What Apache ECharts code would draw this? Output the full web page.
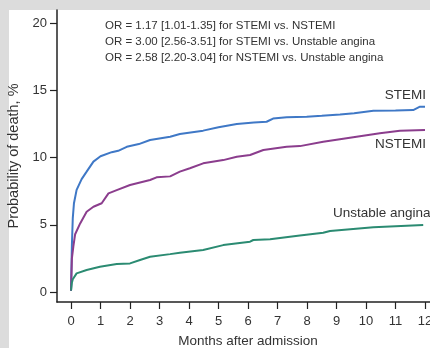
<!DOCTYPE html>
<html>
<head>
<meta charset="utf-8">
<script src="https://cdn.jsdelivr.net/npm/echarts@6/dist/echarts.min.js"></script>
<style>
  html, body { margin: 0; padding: 0; background: #dcdcdc; }
  #chart { width: 430px; height: 348px; }
</style>
</head>
<body>
<div id="chart"></div>
<script>
// months after admission / probability of death (%)
const stemiMonths = [0, 0.03, 0.06, 0.1, 0.19, 0.36, 0.53, 0.76, 1.0, 1.38, 1.6, 1.89, 2.3, 2.68, 3.36, 3.69, 4.48, 5.0, 5.62, 6.2, 6.63, 6.85, 7.31, 7.99, 8.5, 9.12, 9.6, 10.25, 11.0, 11.6, 11.83, 12.0];
const stemiValues = [0.1, 3.5, 5.5, 6.6, 7.6, 8.4, 8.95, 9.7, 10.1, 10.4, 10.5, 10.8, 11.0, 11.3, 11.55, 11.75, 12.0, 12.25, 12.5, 12.6, 12.66, 12.9, 13.0, 13.03, 13.1, 13.2, 13.3, 13.48, 13.5, 13.53, 13.78, 13.78];

const nstemiMonths = [0, 0.03, 0.08, 0.14, 0.31, 0.53, 0.76, 1.04, 1.27, 1.55, 2.0, 2.68, 2.9, 3.36, 3.69, 4.03, 4.48, 5.16, 5.62, 6.07, 6.52, 7.31, 7.76, 8.55, 9.68, 10.47, 11.15, 12.0];
const nstemiValues = [0.1, 2.5, 3.4, 4.3, 5.1, 5.97, 6.34, 6.6, 7.34, 7.58, 7.96, 8.33, 8.53, 8.6, 8.95, 9.2, 9.57, 9.81, 10.06, 10.19, 10.56, 10.8, 10.85, 11.17, 11.55, 11.8, 12.0, 12.04];

const uaMonths = [0, 0.03, 0.06, 0.19, 0.53, 0.98, 1.55, 2.0, 2.34, 2.68, 3.36, 3.69, 4.48, 5.16, 6.07, 6.18, 6.75, 7.42, 7.76, 8.55, 8.78, 10.25, 11.94];
const uaValues = [0.1, 0.7, 0.95, 1.39, 1.64, 1.88, 2.08, 2.13, 2.38, 2.62, 2.82, 2.92, 3.12, 3.49, 3.74, 3.87, 3.92, 4.11, 4.2, 4.41, 4.54, 4.81, 4.98];

const xTicks = [0, 1, 2, 3, 4, 5, 6, 7, 8, 9, 10, 11, 12];
const yTicks = [0, 5, 10, 15, 20];

const orLines = [
    'OR = 1.17 [1.01-1.35] for STEMI vs. NSTEMI',
    'OR = 3.00 [2.56-3.51] for STEMI vs. Unstable angina',
    'OR = 2.58 [2.20-3.04] for NSTEMI vs. Unstable angina'
];

const FONT = '"Liberation Sans", Arial, sans-serif';
const AXIS_COLOR = '#222';
const TEXT_COLOR = '#333';

const pair = (xs, ys) => xs.map((x, i) => [x, ys[i]]);

const chart = echarts.init(document.getElementById('chart'));

const lineSeries = (name, xs, ys, color) => ({
    name,
    type: 'line',
    data: pair(xs, ys),
    showSymbol: false,
    symbol: 'none',
    smooth: false,
    lineStyle: { color, width: 2 },
    silent: true,
    z: 3
});

chart.setOption({
    backgroundColor: '#dcdcdc',
    animation: false,
    textStyle: { fontFamily: FONT },
    graphic: [
        {
            type: 'rect',
            shape: { x: 9, y: 10, width: 421, height: 338 },
            style: { fill: '#ffffff' },
            z: -10,
            silent: true
        },
        ...orLines.map((t, i) => ({
            type: 'text',
            left: 105,
            top: 20 + i * 16,
            style: { text: t, fill: TEXT_COLOR, font: '11.5px ' + FONT },
            silent: true
        })),
        {
            type: 'text', right: 4, top: 88,
            style: { text: 'STEMI', fill: TEXT_COLOR, font: '13.5px ' + FONT }
        },
        {
            type: 'text', right: 4, top: 137,
            style: { text: 'NSTEMI', fill: TEXT_COLOR, font: '13.5px ' + FONT }
        },
        {
            type: 'text', left: 333, top: 206,
            style: { text: 'Unstable angina', fill: TEXT_COLOR, font: '13.5px ' + FONT }
        }
    ],
    grid: { left: 57, right: 0, top: 10, bottom: 46, containLabel: false, outerBoundsMode: 'none' },
    xAxis: {
        type: 'value',
        min: -0.475,
        max: 12.17,
        name: 'Months after admission',
        nameLocation: 'middle',
        nameGap: 32,
        nameTextStyle: { color: TEXT_COLOR, fontSize: 13.5, fontFamily: FONT, padding: [0, 0, 0, 9] },
        axisLine: { show: true, onZero: false, lineStyle: { color: AXIS_COLOR, width: 1.5 } },
        axisTick: { show: true, inside: false, length: 7, customValues: xTicks, lineStyle: { color: AXIS_COLOR, width: 1.2 } },
        axisLabel: { customValues: xTicks, color: TEXT_COLOR, fontSize: 13, fontFamily: FONT, margin: 13 },
        splitLine: { show: false }
    },
    yAxis: {
        type: 'value',
        min: -0.74,
        max: 20.97,
        name: 'Probability of death, %',
        nameLocation: 'middle',
        nameGap: 28,
        nameTextStyle: { color: TEXT_COLOR, fontSize: 14.5, fontFamily: FONT },
        axisLine: { show: true, onZero: false, lineStyle: { color: AXIS_COLOR, width: 1.5 } },
        axisTick: { show: true, inside: false, length: 7, customValues: yTicks, lineStyle: { color: AXIS_COLOR, width: 1.2 } },
        axisLabel: { customValues: yTicks, color: TEXT_COLOR, fontSize: 13, fontFamily: FONT, margin: 10 },
        splitLine: { show: false }
    },
    series: [
        lineSeries('STEMI', stemiMonths, stemiValues, '#3f78c6'),
        lineSeries('NSTEMI', nstemiMonths, nstemiValues, '#8b3d8d'),
        lineSeries('Unstable angina', uaMonths, uaValues, '#2b8b72')
    ]
});
</script>
</body>
</html>
